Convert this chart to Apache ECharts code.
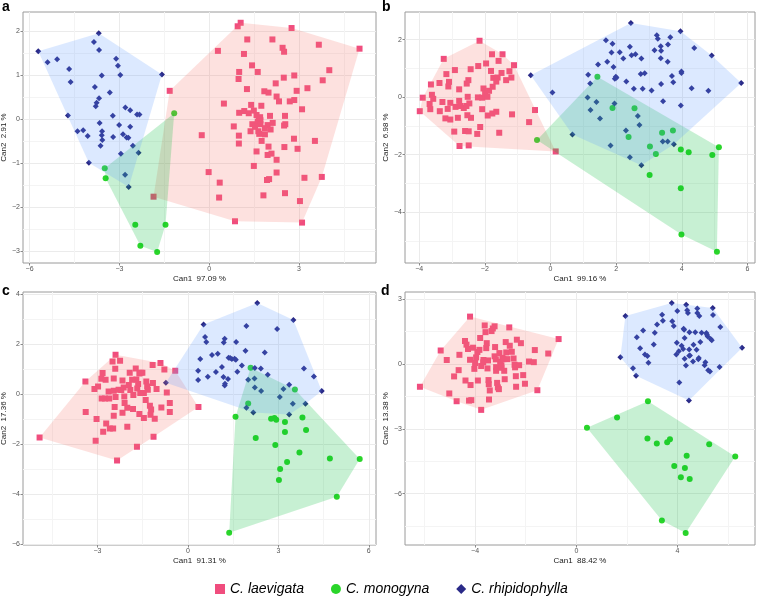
<!DOCTYPE html>
<html><head><meta charset="utf-8">
<script src="https://cdn.jsdelivr.net/npm/echarts@6/dist/echarts.min.js"></script>
<style>html,body{margin:0;padding:0;background:#fff}#c{width:760px;height:599px}</style>
</head><body><div id="c"></div>
<script>
const species = ['C. laevigata', 'C. monogyna', 'C. rhipidophylla'];
const panelLabels = ['a', 'b', 'c', 'd'];
const xTitles = ['Can1  97.09 %', 'Can1  99.16 %', 'Can1  91.31 %', 'Can1  88.42 %'];
const yTitles = ['Can2  2.91 %', 'Can2  6.98 %', 'Can2  17.36 %', 'Can2  13.38 %'];
const xTicks = [[-6,-3,0,3], [-4,-2,0,2,4,6], [-3,0,3,6], [-4,0,4]];
const xMinor = [[-4.5,-1.5,1.5,4.5], [-3,-1,1,3,5], [-4.5,-1.5,1.5,4.5], [-6,-2,2,6]];
const yTicks = [[-3,-2,-1,0,1,2], [-4,-2,0,2], [-6,-4,-2,0,2,4], [-6,-3,0,3]];
const yMinor = [[-2.5,-1.5,-0.5,0.5,1.5], [-5,-3,-1,1], [-5,-3,-1,1,3], [-7.5,-4.5,-1.5,1.5]];

// Panel a
const a_laevigata = [[1.05,2.20],[0.95,2.12],[2.75,2.08],[1.27,1.82],[2.11,1.82],[3.66,1.70],[5.02,1.61],[0.29,1.56],[2.45,1.63],[2.50,1.54],[1.16,1.49],[1.43,1.23],[4.01,1.12],[1.00,1.08],[1.62,1.08],[0.98,0.92],[2.84,1.00],[2.49,0.95],[3.79,0.89],[2.22,0.82],[1.26,0.69],[3.28,0.71],[-1.32,0.65],[1.84,0.64],[1.98,0.61],[2.92,0.65],[2.25,0.52],[2.33,0.41],[2.69,0.41],[2.84,0.44],[0.49,0.36],[1.40,0.33],[1.74,0.31],[3.10,0.23],[1.00,0.15],[1.17,0.19],[1.32,0.14],[1.49,0.20],[2.03,0.08],[2.53,0.08],[1.66,0.02],[1.71,-0.02],[0.82,-0.16],[1.44,-0.11],[1.62,-0.05],[1.71,-0.11],[1.95,-0.13],[2.12,-0.08],[2.54,-0.11],[2.50,-0.14],[-0.25,-0.36],[0.99,-0.37],[1.38,-0.27],[1.64,-0.27],[1.67,-0.33],[1.86,-0.34],[2.83,-0.44],[3.53,-0.49],[1.75,-0.49],[0.99,-0.55],[1.98,-0.62],[2.51,-0.63],[2.95,-0.67],[1.58,-0.73],[1.95,-0.81],[2.08,-0.78],[2.25,-0.92],[1.49,-1.06],[-0.02,-1.20],[2.25,-1.21],[3.18,-1.33],[3.76,-1.31],[0.35,-1.44],[1.93,-1.38],[2.00,-1.36],[-1.86,-1.76],[0.33,-1.78],[1.81,-1.73],[2.53,-1.68],[3.03,-1.86],[0.86,-2.32],[3.10,-2.35],[1.58,0.10],[1.86,-0.20],[2.05,-0.23],[1.53,-0.17],[1.70,0.05]];
const a_monogyna = [[-3.49,-1.11],[-3.46,-1.34],[-2.47,-2.40],[-1.46,-2.40],[-2.30,-2.88],[-1.74,-3.02],[-1.17,0.14]];
const a_rhipidophylla = [[-5.71,1.55],[-5.40,1.30],[-5.08,1.37],[-4.68,1.15],[-4.63,0.85],[-4.72,0.09],[-4.40,-0.27],[-4.21,-0.25],[-4.06,-0.38],[-4.02,-0.99],[-3.85,1.76],[-3.69,1.96],[-3.68,1.58],[-3.82,0.74],[-3.76,0.38],[-3.79,0.30],[-3.68,0.48],[-3.59,1.00],[-3.32,0.61],[-3.66,-0.08],[-3.58,-0.27],[-3.59,-0.36],[-3.57,-0.47],[-3.63,-0.60],[-3.22,0.08],[-3.21,-0.40],[-3.11,1.38],[-3.05,1.22],[-2.97,1.01],[-3.01,-0.13],[-2.95,-0.78],[-2.80,0.27],[-2.64,0.21],[-2.88,-0.34],[-2.76,-0.41],[-2.70,-0.42],[-2.64,-0.17],[-2.41,0.11],[-2.33,0.11],[-2.55,-0.60],[-2.36,-0.76],[-2.81,-1.26],[-2.69,-1.54],[-1.58,1.02]];

// Panel b
const b_laevigata = [[-2.16,1.96],[-3.25,1.33],[-1.78,1.49],[-1.46,1.49],[-1.58,1.26],[-1.11,1.11],[-2.91,0.94],[-3.17,0.80],[-2.43,0.97],[-2.20,1.08],[-1.96,1.17],[-1.25,0.90],[-1.81,0.91],[-1.49,0.84],[-3.64,0.44],[-3.38,0.49],[-3.09,0.53],[-3.11,0.37],[-2.78,0.27],[-2.50,0.59],[-2.55,0.47],[-2.04,0.30],[-1.74,0.67],[-1.61,0.68],[-1.65,0.54],[-1.35,0.59],[-1.19,0.68],[-3.89,-0.02],[-3.61,0.08],[-3.57,-0.06],[-3.98,-0.49],[-3.68,-0.24],[-3.66,-0.42],[-3.29,-0.17],[-3.05,-0.20],[-2.78,-0.13],[-2.52,0.01],[-2.47,-0.22],[-2.21,-0.01],[-2.08,-0.02],[-1.99,0.13],[-1.87,0.22],[-1.76,0.36],[-1.92,0.01],[-2.89,-0.34],[-2.74,-0.31],[-2.64,-0.38],[-2.56,-0.31],[-3.13,-0.41],[-3.37,-0.49],[-3.20,-0.74],[-3.05,-0.78],[-2.82,-0.72],[-2.53,-0.63],[-2.42,-0.72],[-2.08,-0.42],[-1.91,-0.64],[-1.77,-0.57],[-1.65,-0.51],[-1.17,-0.60],[-0.47,-0.45],[-0.65,-0.87],[-2.93,-1.20],[-2.60,-1.18],[-2.49,-1.19],[-2.14,-1.04],[-2.23,-1.28],[-1.56,-1.24],[-2.77,-1.70],[-2.49,-1.68],[0.16,-1.89]];
const b_monogyna = [[-0.41,-1.49],[1.43,0.71],[1.89,-0.38],[2.56,-0.39],[2.38,-1.39],[3.03,-1.72],[3.40,-1.24],[3.73,-1.16],[3.21,-1.98],[3.97,-1.82],[4.21,-1.92],[4.93,-2.01],[5.13,-1.74],[3.02,-2.71],[3.97,-3.17],[3.99,-4.78],[5.07,-5.38]];
const b_rhipidophylla = [[-0.60,0.76],[0.06,0.16],[0.67,-1.30],[1.15,0.78],[1.21,0.47],[1.13,-0.01],[1.22,-0.45],[1.40,-0.17],[1.51,-0.74],[1.45,1.13],[1.69,1.98],[1.73,1.23],[1.86,1.55],[1.89,1.86],[1.92,1.05],[1.99,0.71],[1.96,0.64],[2.01,0.67],[1.95,-0.22],[2.11,1.56],[2.22,1.34],[2.31,0.54],[2.45,2.58],[2.42,1.75],[2.47,1.46],[2.59,1.49],[2.54,0.29],[2.77,1.34],[2.81,0.29],[2.75,0.80],[2.87,0.83],[2.66,-0.66],[2.71,-0.97],[2.30,-1.16],[1.83,-1.68],[2.42,-2.09],[2.77,-2.37],[3.08,0.23],[3.17,1.63],[3.24,2.15],[3.27,2.03],[3.36,1.77],[3.37,1.61],[3.36,1.35],[3.37,0.46],[3.43,-0.14],[3.57,1.23],[3.58,1.83],[3.65,2.08],[3.70,0.73],[3.74,0.52],[3.42,-1.54],[3.57,-1.54],[3.76,-1.64],[3.96,2.29],[3.99,0.89],[3.99,0.84],[3.97,-0.29],[4.38,1.71],[4.30,0.31],[4.81,0.22],[4.91,1.45],[5.81,0.49]];

// Panel c
const c_laevigata = [[-4.92,-1.75],[-3.40,0.49],[-3.39,-0.73],[-3.10,0.19],[-2.98,0.29],[-2.87,0.60],[-2.83,0.83],[-2.73,0.56],[-3.03,-1.01],[-3.06,-1.88],[-2.81,-1.52],[-2.71,-1.19],[-2.86,-0.19],[-2.75,-0.19],[-2.63,0.09],[-2.61,-0.19],[-2.50,1.29],[-2.40,1.56],[-2.25,1.32],[-2.41,1.00],[-2.46,0.61],[-2.46,0.12],[-2.40,-0.13],[-2.43,-0.53],[-2.46,-0.88],[-2.35,-2.67],[-2.59,-1.39],[-2.48,-1.39],[-2.30,0.16],[-2.21,0.15],[-2.17,0.53],[-2.13,0.25],[-2.11,-0.11],[-2.10,-0.37],[-2.17,-0.76],[-2.01,-0.56],[-2.01,-1.32],[-1.93,0.84],[-1.96,0.35],[-1.91,0.15],[-1.81,-0.05],[-1.82,-0.61],[-1.73,1.01],[-1.71,0.57],[-1.65,0.39],[-1.68,0.21],[-1.61,0.81],[-1.57,0.84],[-1.58,0.03],[-1.51,0.84],[-1.69,-2.12],[-1.61,-0.81],[-1.46,-0.97],[-1.40,-0.25],[-1.38,0.49],[-1.35,0.29],[-1.33,0.16],[-1.26,-0.48],[-1.22,-0.63],[-1.24,-0.84],[-1.16,0.43],[-1.17,1.15],[-1.14,-1.72],[-1.10,-1.00],[-0.91,1.23],[-0.88,-0.55],[-0.78,0.97],[-0.70,0.05],[-0.60,-0.37],[-0.60,-0.73],[-0.42,0.92],[0.35,-0.53],[-1.04,0.19],[-1.46,0.03],[-1.85,0.56]];
const c_monogyna = [[2.08,1.04],[2.00,-0.39],[1.58,-0.92],[2.25,-1.77],[2.76,-1.00],[2.87,-0.97],[2.93,-1.04],[3.22,-1.13],[3.22,-1.53],[2.90,-2.05],[3.55,0.17],[3.80,-0.95],[3.92,-1.45],[3.70,-2.35],[3.29,-2.73],[3.06,-3.01],[3.02,-3.45],[4.71,-2.59],[5.70,-2.61],[4.94,-4.12],[1.37,-5.56]];
const c_rhipidophylla = [[-0.73,0.44],[0.34,0.92],[0.34,0.55],[0.41,1.39],[0.52,2.77],[0.57,2.27],[0.61,2.07],[0.66,0.68],[0.80,1.55],[0.93,0.87],[0.99,1.60],[1.13,1.07],[1.18,0.67],[1.22,0.33],[1.19,2.05],[1.22,2.20],[1.23,0.40],[1.33,0.59],[1.35,1.44],[1.40,1.43],[1.46,1.39],[1.55,1.40],[1.60,2.07],[1.59,1.36],[1.64,0.88],[1.79,1.13],[1.91,1.72],[1.94,2.71],[2.00,0.56],[1.94,-0.56],[2.17,-0.75],[2.22,1.03],[2.30,3.63],[2.22,0.25],[2.42,1.01],[2.43,0.11],[2.55,1.65],[2.65,0.76],[2.96,2.59],[3.05,-0.13],[3.17,0.19],[3.36,0.36],[3.50,2.95],[3.48,-0.40],[3.85,1.01],[3.90,-0.40],[4.18,0.69],[4.44,0.11],[3.36,-0.83],[2.21,0.61]];

// Panel d
const d_laevigata = [[-6.18,-1.05],[-5.36,0.63],[-5.12,0.19],[-5.02,-1.36],[-4.73,-1.72],[-4.83,-0.57],[-4.65,-0.28],[-4.62,0.43],[-4.40,1.07],[-4.34,0.90],[-4.28,0.70],[-4.20,2.20],[-4.24,-1.69],[-4.15,-1.67],[-4.38,-0.76],[-4.20,0.20],[-4.18,-0.97],[-4.08,0.76],[-4.03,-0.22],[-4.00,0.05],[-3.96,0.31],[-3.91,0.56],[-3.89,-0.76],[-3.83,0.66],[-3.80,1.21],[-3.76,-2.12],[-3.76,-0.09],[-3.68,0.08],[-3.67,0.19],[-3.62,1.79],[-3.59,1.48],[-3.56,0.74],[-3.54,0.97],[-3.49,0.17],[-3.51,-0.20],[-3.47,-0.74],[-3.46,-0.93],[-3.45,-1.64],[-3.42,-1.22],[-3.35,1.53],[-3.30,1.65],[-3.23,1.75],[-3.21,0.79],[-3.23,0.36],[-3.18,0.22],[-3.17,-0.14],[-3.17,-0.31],[-3.13,-0.87],[-3.10,-1.08],[-3.06,-1.16],[-3.04,0.51],[-3.01,0.11],[-2.96,-0.17],[-2.96,-0.05],[-2.92,0.29],[-2.88,0.23],[-2.85,-0.31],[-2.83,-0.70],[-2.79,1.02],[-2.77,0.54],[-2.73,0.23],[-2.65,1.70],[-2.63,0.85],[-2.55,0.57],[-2.48,0.26],[-2.44,-0.03],[-2.42,-0.15],[-2.39,-0.56],[-2.35,1.13],[-2.19,0.97],[-2.38,-1.05],[-2.26,-0.05],[-2.10,-0.51],[-2.03,-0.91],[-1.87,0.12],[-1.64,0.65],[-1.68,0.09],[-1.54,-1.21],[-1.11,0.49],[-0.70,1.16]];
const d_monogyna = [[0.42,-2.95],[1.61,-2.47],[2.83,-1.72],[2.81,-3.45],[3.18,-3.68],[3.59,-3.62],[3.70,-3.48],[3.87,-4.72],[4.29,-4.81],[4.48,-5.32],[4.13,-5.24],[4.36,-4.25],[5.25,-3.71],[6.28,-4.28],[3.38,-7.24],[4.32,-7.82]];
const d_rhipidophylla = [[1.94,2.23],[1.74,0.32],[2.24,-0.19],[2.36,-0.54],[2.39,1.24],[2.52,0.73],[2.64,1.56],[2.71,0.45],[2.81,0.37],[2.85,0.06],[3.06,0.91],[3.10,1.45],[3.19,1.84],[3.39,2.29],[3.42,2.01],[3.77,2.83],[3.79,1.99],[3.85,1.76],[3.95,0.45],[3.97,0.99],[3.99,2.46],[4.05,0.59],[4.07,-0.85],[4.16,0.85],[4.22,0.70],[4.24,1.64],[4.26,1.59],[4.28,1.21],[4.28,0.25],[4.33,-0.06],[4.34,2.75],[4.38,2.49],[4.41,2.37],[4.46,0.68],[4.47,1.48],[4.49,0.40],[4.61,0.12],[4.63,0.90],[4.70,1.47],[4.75,0.66],[4.78,2.58],[4.78,2.37],[4.82,0.22],[4.86,2.23],[4.84,0.28],[4.90,1.02],[4.95,1.45],[5.07,-0.05],[5.10,0.08],[5.14,1.44],[5.16,1.36],[5.19,1.28],[5.21,-0.29],[5.31,1.16],[5.28,-0.34],[5.35,1.10],[5.39,2.60],[5.40,2.27],[5.66,-0.14],[5.69,1.72],[6.55,0.76],[4.45,-1.69],[4.46,0.39]];

const panelData = [
  [a_laevigata, a_monogyna, a_rhipidophylla],
  [b_laevigata, b_monogyna, b_rhipidophylla],
  [c_laevigata, c_monogyna, c_rhipidophylla],
  [d_laevigata, d_monogyna, d_rhipidophylla]
];

// ---- layout & style (not data) ----
const FONT = '"Liberation Sans", Arial, Helvetica, sans-serif';
const grids = [
  {left: 23, top: 12, width: 353, height: 251},
  {left: 405, top: 12, width: 350, height: 251},
  {left: 23, top: 292, width: 353, height: 253},
  {left: 405, top: 292, width: 350, height: 253}
];
const xRanges = [[-6.22, 5.57], [-4.43, 6.23], [-5.47, 6.24], [-6.77, 7.06]];
const yRanges = [[-3.27, 2.445], [-5.77, 2.96], [-6.05, 4.07], [-8.38, 3.34]];
const labelPos = [[2, 0], [382, 0], [2, 284], [381, 284]];
const pointColors = ['#F04D7E', '#2AD52A', '#2A2A88'];
const hullColors = ['rgba(248,118,109,0.22)', 'rgba(0,186,56,0.22)', 'rgba(97,156,255,0.22)'];
const symbols = ['rect', 'circle', 'diamond'];
const symbolSizes = [6, 6, 6];

function convexHull(points) {
  const p = points.slice().sort((u, v) => u[0] - v[0] || u[1] - v[1]);
  const cross = (o, a, b) => (a[0] - o[0]) * (b[1] - o[1]) - (a[1] - o[1]) * (b[0] - o[0]);
  const lower = [];
  for (const q of p) { while (lower.length >= 2 && cross(lower[lower.length - 2], lower[lower.length - 1], q) <= 0) lower.pop(); lower.push(q); }
  const upper = [];
  for (let i = p.length - 1; i >= 0; i--) { const q = p[i]; while (upper.length >= 2 && cross(upper[upper.length - 2], upper[upper.length - 1], q) <= 0) upper.pop(); upper.push(q); }
  upper.pop(); lower.pop();
  return lower.concat(upper);
}
const fmt = v => (v < 0 ? '\u2212' : '') + Math.abs(v);

const xAxis = [], yAxis = [], series = [], grid = [];
for (let p = 0; p < 4; p++) {
  grid.push(Object.assign({show: true, borderColor: '#9a9a9a', borderWidth: 1, backgroundColor: 'transparent', outerBoundsMode: 'none', containLabel: false}, grids[p]));
  xAxis.push({
    gridIndex: p, type: 'value', min: xRanges[p][0], max: xRanges[p][1], position: 'bottom',
    name: xTitles[p], nameLocation: 'middle', nameGap: 12,
    nameTextStyle: {fontSize: 8, color: '#1a1a1a', fontFamily: FONT},
    axisLine: {show: false, onZero: false},
    axisTick: {show: true, inside: false, length: 2.5, lineStyle: {color: '#8a8a8a', width: 1}, customValues: xTicks[p]},
    axisLabel: {customValues: xTicks[p], fontSize: 7, color: '#555', margin: 3, fontFamily: FONT, formatter: fmt},
    splitLine: {show: true, lineStyle: {color: '#EBEBEB', width: 1}}
  });
  xAxis.push({
    gridIndex: p, type: 'value', min: xRanges[p][0], max: xRanges[p][1], position: 'bottom',
    axisLine: {show: false, onZero: false},
    axisTick: {show: false, customValues: xMinor[p]},
    axisLabel: {show: false, customValues: xMinor[p]},
    splitLine: {show: true, lineStyle: {color: '#F4F4F4', width: 1}}
  });
  yAxis.push({
    gridIndex: p, type: 'value', min: yRanges[p][0], max: yRanges[p][1], position: 'left',
    name: yTitles[p], nameLocation: 'middle', nameGap: 13, nameRotate: 90,
    nameTextStyle: {fontSize: 8, color: '#1a1a1a', fontFamily: FONT},
    axisLine: {show: false, onZero: false},
    axisTick: {show: true, inside: false, length: 2.5, lineStyle: {color: '#8a8a8a', width: 1}, customValues: yTicks[p]},
    axisLabel: {customValues: yTicks[p], fontSize: 7, color: '#555', margin: 3, fontFamily: FONT, formatter: fmt},
    splitLine: {show: true, lineStyle: {color: '#EBEBEB', width: 1}}
  });
  yAxis.push({
    gridIndex: p, type: 'value', min: yRanges[p][0], max: yRanges[p][1], position: 'left',
    axisLine: {show: false, onZero: false},
    axisTick: {show: false, customValues: yMinor[p]},
    axisLabel: {show: false, customValues: yMinor[p]},
    splitLine: {show: true, lineStyle: {color: '#F4F4F4', width: 1}}
  });
  for (let s = 0; s < 3; s++) {
    series.push({
      type: 'scatter', name: species[s], xAxisIndex: p * 2, yAxisIndex: p * 2,
      data: panelData[p][s], symbol: symbols[s], symbolSize: symbolSizes[s],
      itemStyle: {color: pointColors[s], opacity: 1}, z: 3, silent: true, animation: false
    });
  }
  for (let s = 0; s < 3; s++) {
    const hull = convexHull(panelData[p][s]);
    series.push({
      type: 'custom', name: 'hull-' + p + '-' + s, xAxisIndex: p * 2, yAxisIndex: p * 2,
      data: hull, encode: {x: 0, y: 1}, z: 4, silent: true, animation: false,
      renderItem: function (params, api) {
        if (params.dataIndex !== 0) return null;
        return {type: 'polygon', shape: {points: hull.map(pt => api.coord(pt))}, style: {fill: hullColors[s], stroke: null}, silent: true};
      }
    });
  }
}

const chart = echarts.init(document.getElementById('c'), null, {renderer: 'canvas'});
chart.setOption({
  animation: false,
  backgroundColor: '#fff',
  textStyle: {fontFamily: FONT},
  grid: grid, xAxis: xAxis, yAxis: yAxis, series: series,
  legend: {
    data: [{name: species[0], icon: 'rect'}, {name: species[1], icon: 'circle'}, {name: species[2], icon: 'diamond'}],
    left: 215, top: 582, padding: 0, itemWidth: 10, itemHeight: 10, itemGap: 27, selectedMode: false,
    textStyle: {fontSize: 14, fontStyle: 'italic', color: '#000', fontFamily: FONT}
  },
  graphic: panelLabels.map((t, i) => ({
    type: 'text', left: labelPos[i][0], top: labelPos[i][1], silent: true,
    style: {text: t, font: 'bold 14px ' + FONT, fill: '#000'}
  }))
});
</script></body></html>
